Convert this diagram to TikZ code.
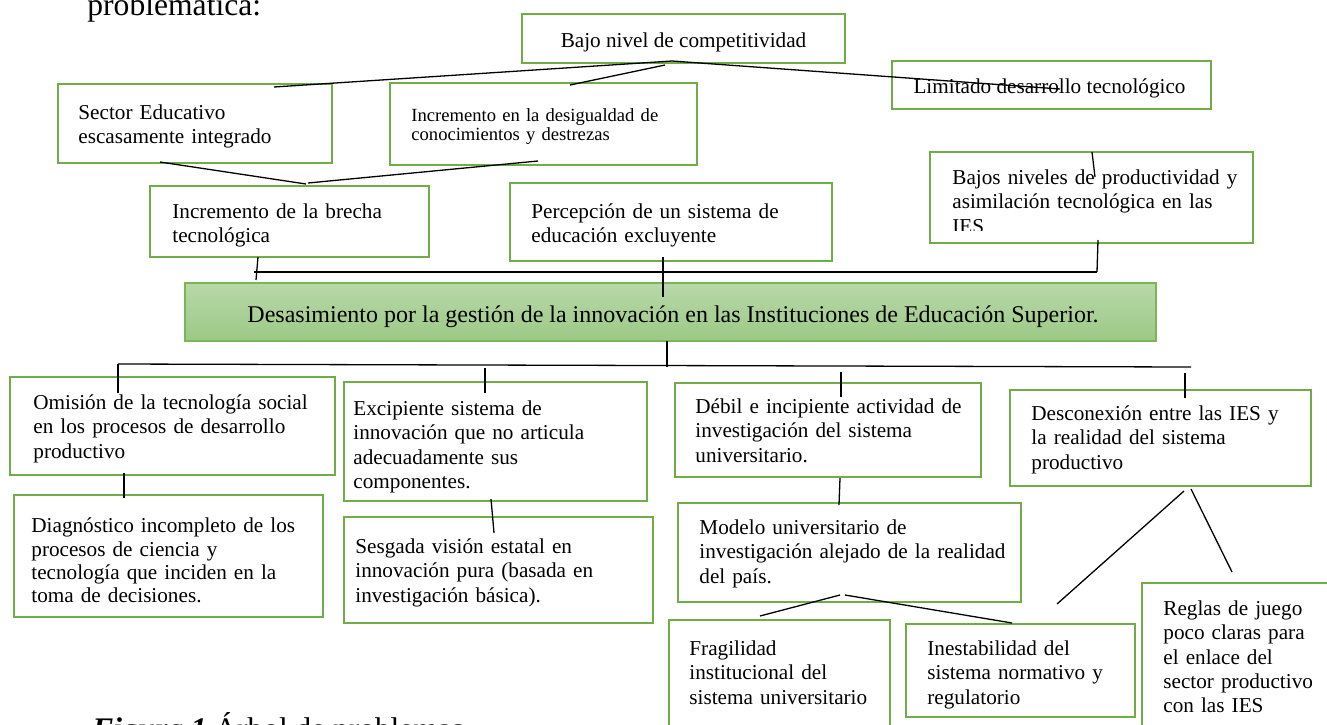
\documentclass[tikz,border=0pt]{standalone}
\usepackage{fontspec}
\setmainfont{Liberation Serif}
\usetikzlibrary{calc,fit}

\definecolor{boxgreen}{RGB}{112,173,71}
\definecolor{shadetop}{RGB}{184,216,168}
\definecolor{shadebot}{RGB}{156,201,134}
\definecolor{coreedge}{RGB}{125,180,90}

\newcommand\boxfont{\fontsize{10.6}{12.15}\selectfont}
\newcommand\smallboxfont{\fontsize{9.3}{9.65}\selectfont}

\tikzset{
  px/.style={x=0.5pt,y=-0.5pt},
  box/.style={draw=boxgreen, line width=1.3pt, fill=white, inner sep=0pt, outer sep=0pt},
  corebox/.style={draw=coreedge, line width=0.6pt, top color=shadetop, bottom color=shadebot, inner sep=0pt, outer sep=0pt},
  txt/.style={anchor=north west, inner sep=0pt, text width=175pt, align=left, font=\boxfont, execute at begin node={\strut}},
  linetxt/.style={anchor=base, inner sep=0pt, font=\boxfont},
  link/.style={draw=black, line width=0.65pt},
}

\begin{document}
\begin{tikzpicture}[px]
\useasboundingbox (0,0) rectangle (1327,724);
\clip (0,0) rectangle (1327,724);

% running text above and caption below the tree
\node[anchor=base west, inner sep=0pt, font=\fontsize{15.8}{19}\selectfont] (lead) at (87,15) {problemática:};
\node[anchor=base west, inner sep=0pt, font=\fontsize{15.7}{19}\selectfont] (caption) at (92,739) {\textbf{\textit{Figura 1}} Árbol de problemas};

% ---- effects ----
\node[box, fit={(522,14) (845,63)}] (bajo) {};
\node[linetxt] (bajo-t) at (683.5,47) {Bajo nivel de competitividad};

\node[box, fit={(892,61) (1211,109)}] (limit) {};
\node[linetxt] (limit-t) at (1049.5,93) {Limitado desarrollo tecnológico};

\node[box, fit={(58,84) (332,163)}] (sector) {};
\node[txt] (sector-t) at (78,102) {Sector Educativo\\escasamente integrado};

\node[box, fit={(390,83) (697,165)}] (desig) {};
\node[txt, font=\smallboxfont] (desig-t) at (411,107.5) {Incremento en la desigualdad de\\conocimientos y destrezas};

\node[box, fit={(150,186) (429,257)}] (brecha) {};
\node[txt] (brecha-t) at (172,201) {Incremento de la brecha\\tecnológica};

\node[box, fit={(510,183) (832,261)}] (percep) {};
\node[txt] (percep-t) at (531,201) {Percepción de un sistema de\\educación excluyente};

\node[box, fit={(930,152) (1253,243)}] (bajos) {};
\begin{scope}
  \clip (930,152) rectangle (1253,230);
  \node[txt] (bajos-t) at (952,167) {Bajos niveles de productividad y\\asimilación tecnológica en las\\IES};
\end{scope}

% ---- core problem ----
\node[corebox, fit={(185,283) (1156,341)}] (core) {};
\node[anchor=base, inner sep=0pt, font=\fontsize{12}{14}\selectfont] (core-t) at (673,322)
  {Desasimiento por la gestión de la innovación en las Instituciones de Educación Superior.};

% ---- causes ----
\node[box, fit={(10,377) (335,475)}] (omis) {};
\node[txt] (omis-t) at (33,392) {Omisión de la tecnología social\\en los procesos de desarrollo\\productivo};

\node[box, fit={(344,382) (647,501)}] (excip) {};
\node[txt] (excip-t) at (353,398) {Excipiente sistema de\\innovación que no articula\\adecuadamente sus\\componentes.};

\node[box, fit={(14,495) (323,617)}] (diag) {};
\node[txt, font=\fontsize{10.6}{11.7}\selectfont] (diag-t) at (31,516) {Diagnóstico incompleto de los\\procesos de ciencia y\\tecnología que inciden en la\\toma de decisiones.};

\node[box, fit={(344,517) (653,623)}] (sesg) {};
\node[txt] (sesg-t) at (355,536) {Sesgada visión estatal en\\innovación pura (basada en\\investigación básica).};

\node[box, fit={(675,383) (981,477)}] (debil) {};
\node[txt] (debil-t) at (695,396) {Débil e incipiente actividad de\\investigación del sistema\\universitario.};

\node[box, fit={(1010,390) (1311,486)}] (desc) {};
\node[txt] (desc-t) at (1031,403) {Desconexión entre las IES y\\la realidad del sistema\\productivo};

\node[box, fit={(678,503) (1021,602)}] (modelo) {};
\node[txt] (modelo-t) at (699,517) {Modelo universitario de\\investigación alejado de la realidad\\del país.};

\node[box, fit={(669,620) (890,745)}] (frag) {};
\node[txt] (frag-t) at (689,638) {Fragilidad\\institucional del\\sistema universitario};

\node[box, fit={(906,624) (1135,717)}] (inest) {};
\node[txt] (inest-t) at (927,638) {Inestabilidad del\\sistema normativo y\\regulatorio};

\node[box, fit={(1142,583) (1335,745)}] (reglas) {};
\node[txt] (reglas-t) at (1163,598) {Reglas de juego\\poco claras para\\el enlace del\\sector productivo\\con las IES};

% ---- connectors, upper tree ----
\draw[link] ($(bajo.south west)+(150,-2)$) -- ($(sector.north west)+(216,3)$);
\draw[link] ($(bajo.south west)+(143,2)$) -- ($(desig.north west)+(180,2)$);
\draw[link] ($(bajo.south west)+(150,-2)$) -- ($(limit.north west)+(168,28)$);
\draw[link] ($(sector.south west)+(102,-1)$) -- ($(brecha.north west)+(156,-2)$);
\draw[link] ($(desig.south west)+(148,-4)$) -- ($(brecha.north west)+(158,-3)$);
\draw[link] ($(bajos.north west)+(162,0)$) -- ($(bajos.north west)+(165,25)$);
\draw[link] ($(brecha.south west)+(104,15)$) -- ($(bajos.south west)+(167,29)$);
\draw[link] ($(brecha.south west)+(108,0)$) -- ($(brecha.south west)+(106,23)$);
\draw[link] ($(percep.south west)+(153,-4)$) -- ($(core.north west)+(478,14)$);
\draw[link] ($(bajos.south west)+(168,-3)$) -- ($(bajos.south west)+(167,29)$);

% ---- connectors, lower tree ----
\draw[link] ($(core.south west)+(482,0)$) -- ($(core.south west)+(482,26)$);
\draw[link] ($(omis.north west)+(108,-13)$) -- ($(desc.north west)+(181,-23)$);
\draw[link] ($(omis.north west)+(108,-13)$) -- ($(omis.north west)+(108,16)$);
\draw[link] ($(excip.north west)+(141,-14)$) -- ($(excip.north west)+(141,11)$);
\draw[link] ($(debil.north west)+(166,-11)$) -- ($(debil.north west)+(166,14)$);
\draw[link] ($(desc.north west)+(175,-17)$) -- ($(desc.north west)+(175,8)$);
\draw[link] ($(omis.south west)+(114,-2)$) -- ($(diag.north west)+(110,3)$);
\draw[link] ($(excip.south west)+(147,-2)$) -- ($(sesg.north west)+(150,16)$);
\draw[link] ($(debil.south west)+(165,1)$) -- ($(modelo.north west)+(161,2)$);
\draw[link] ($(modelo.south west)+(162,-7)$) -- ($(frag.north west)+(91,-4)$);
\draw[link] ($(modelo.south west)+(167,-7)$) -- ($(inest.north west)+(106,-1)$);
\draw[link] ($(desc.south west)+(174,5)$) -- ($(inest.north west)+(151,-20)$);
\draw[link] ($(desc.south west)+(181,3)$) -- ($(reglas.north west)+(90,-11)$);
\end{tikzpicture}
\end{document}
